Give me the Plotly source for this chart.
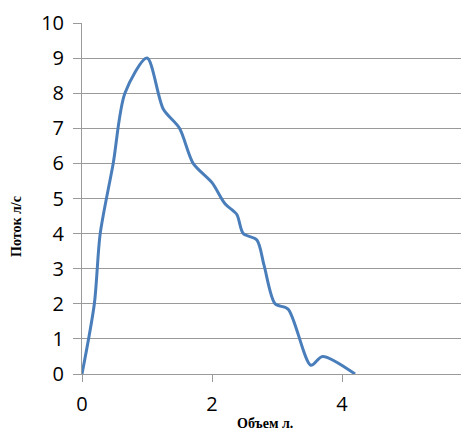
import plotly.graph_objects as go

volume = [0, 0.19, 0.28, 0.48, 0.66, 1.0, 1.25, 1.5, 1.71, 2.0, 2.2, 2.38, 2.48, 2.69, 2.8, 2.97, 3.17, 3.52, 3.7, 4.2]
flow = [0, 2.0, 4.0, 6.0, 8.0, 9.0, 7.55, 7.0, 6.0, 5.45, 4.85, 4.55, 4.0, 3.82, 3.1, 2.0, 1.85, 0.25, 0.5, 0]

x_ticks = [0, 2, 4]
y_ticks = list(range(0, 11))

fig = go.Figure()
fig.add_trace(go.Scatter(
    x=volume, y=flow, mode="lines",
    line=dict(color="#4A7EBB", width=3, shape="spline", smoothing=0.8),
    hoverinfo="skip", showlegend=False,
))

grid = "#9A9A9A"
tick_font = dict(family="Open Sans, Lato, sans-serif", size=20, color="#000000")
title_font = dict(family="Liberation Serif, Times New Roman, serif", size=14, color="#000")

fig.update_layout(
    width=461, height=432,
    margin=dict(l=82, r=0, t=23, b=58),
    paper_bgcolor="white", plot_bgcolor="white",
    xaxis=dict(
        range=[0, 5.83], tickvals=x_ticks, ticktext=[str(v) for v in x_ticks],
        showgrid=False, zeroline=False, showline=True, linecolor=grid, linewidth=1,
        ticks="outside", ticklen=7, tickcolor=grid, tickfont=tick_font,
        ticklabelstandoff=5,
    ),
    yaxis=dict(
        range=[0, 10], tickvals=y_ticks, ticktext=[str(v) for v in y_ticks],
        showgrid=True, gridcolor=grid, gridwidth=1, zeroline=False,
        showline=True, linecolor=grid, linewidth=1,
        ticks="outside", ticklen=8, tickcolor=grid, tickfont=tick_font,
        ticklabelstandoff=5,
    ),
    annotations=[
        dict(text="<b>Поток л/с</b>", xref="paper", yref="paper",
             x=-(82-17)/379, y=(374-227)/351, xanchor="center", yanchor="middle",
             textangle=-90, showarrow=False, font=title_font),
        dict(text="<b>Объем л.</b>", xref="paper", yref="paper",
             x=(265-82)/379, y=-(423-374)/351, xanchor="center", yanchor="middle",
             showarrow=False, font=title_font),
    ],
)

fig.write_html("out.html", config={"displayModeBar": False},
               post_script="document.body.style.margin='0';document.body.style.overflow='hidden';")
